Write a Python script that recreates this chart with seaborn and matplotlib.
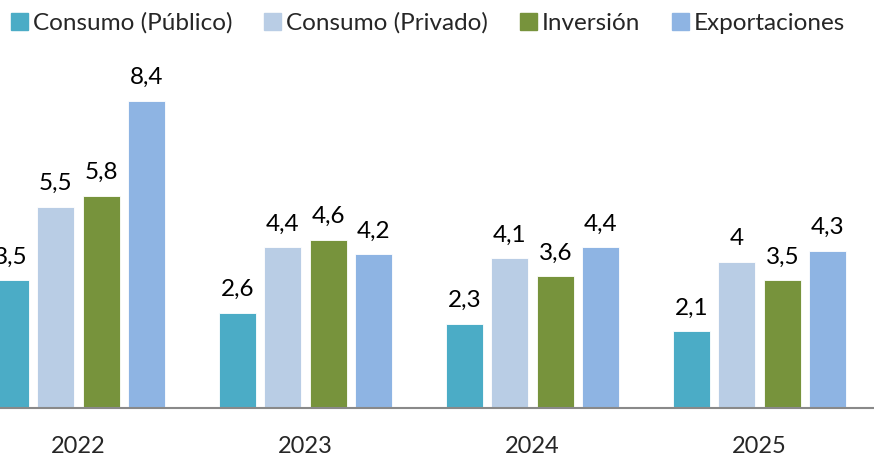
import pandas as pd
import matplotlib.pyplot as plt
import seaborn as sns

# --- DATOS ---
years = ['2022', '2023', '2024', '2025']
series = ['Consumo (Público)', 'Consumo (Privado)', 'Inversión', 'Exportaciones']
publico = [3.5, 2.6, 2.3, 2.1]
privado = [5.5, 4.4, 4.1, 4.0]
inversion = [5.8, 4.6, 3.6, 3.5]
exportaciones = [8.4, 4.2, 4.4, 4.3]
colors = ['#4BACC6', '#B9CDE5', '#77933C', '#8EB4E3']

rows = []
for name, vals in zip(series, [publico, privado, inversion, exportaciones]):
    for y, v in zip(years, vals):
        rows.append({'Año': y, 'Serie': name, 'Valor': v})
df = pd.DataFrame(rows)

sns.set_style('white')
plt.rcParams['font.family'] = ['Lato', 'DejaVu Sans']

fig = plt.figure(figsize=(8.74, 4.62), dpi=100)
ax = fig.add_axes([0, 0.117, 1, 0.883])

sns.barplot(data=df, x='Año', y='Valor', hue='Serie', order=years, hue_order=series,
            palette=colors, width=0.8, gap=0.19, saturation=1, ax=ax, legend=False,
            edgecolor='white', linewidth=0.6)

# --- ETIQUETAS ---
for cont, vals in zip(ax.containers, [publico, privado, inversion, exportaciones]):
    ax.bar_label(cont, labels=[f'{v:g}'.replace('.', ',') for v in vals],
                 padding=9, fontsize=17.5, color='black')

ax.set_xlim(-0.346, 3.504)
ax.set_ylim(0, 11.15)
ax.set_xlabel('')
ax.set_ylabel('')
ax.set_yticks([])
ax.tick_params(axis='x', length=0, pad=20, labelsize=17)
for s in ['top', 'left', 'right']:
    ax.spines[s].set_visible(False)
ax.spines['bottom'].set_color('#898989')
ax.spines['bottom'].set_linewidth(1.5)

handles = [plt.Rectangle((0, 0), 1, 1, color=c) for c in colors]
ax.legend(handles, series, loc='upper left', bbox_to_anchor=(0.002, 0.995),
          bbox_transform=fig.transFigure, ncol=4, frameon=False, fontsize=17.5,
          handlelength=0.7, handleheight=0.7, handletextpad=0.2,
          columnspacing=1.3, borderaxespad=0)

fig.savefig('out.png', dpi=100)
